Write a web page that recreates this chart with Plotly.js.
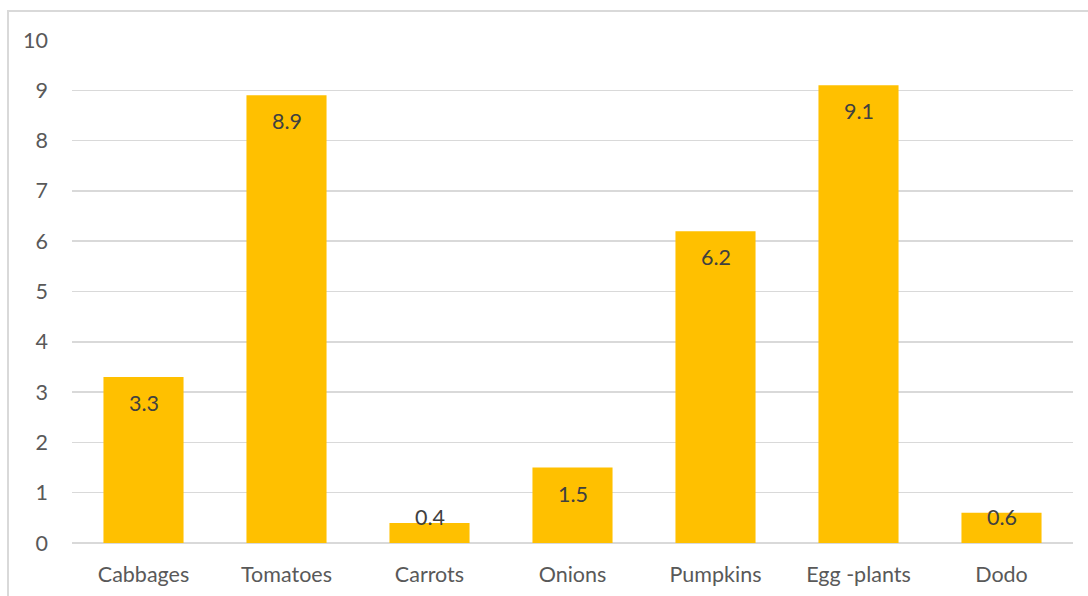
<!DOCTYPE html>
<html>
<head>
<meta charset="utf-8">
<script src="https://cdn.plot.ly/plotly-3.0.1.min.js"></script>
<style>
  html, body { margin: 0; padding: 0; background: #ffffff; }
  #chart { width: 1088px; height: 596px; }
</style>
</head>
<body>
<div id="chart"></div>
<script>
// Vegetable quantities
const categories = ["Cabbages", "Tomatoes", "Carrots", "Onions", "Pumpkins", "Egg -plants", "Dodo"];
const values = [3.3, 8.9, 0.4, 1.5, 6.2, 9.1, 0.6];
const yTicks = [0, 1, 2, 3, 4, 5, 6, 7, 8, 9, 10];

const W = 1088, H = 596;
const margin = { l: 72, r: 15, t: 40, b: 53, pad: 0 };
const yMax = 10;
const plotH = H - margin.t - margin.b;
const pxPerUnit = plotH / yMax;

const fontFamily = "Lato, 'Open Sans', sans-serif";
const fontSize = 21.5;
const labelFont = { family: fontFamily, size: fontSize, color: "#404040" };

// Value labels sit just inside the bar end; short bars keep the label above the axis line
const labelOffset = 26;
const annotations = values.map((v, i) => {
  const barPx = v * pxPerUnit;
  const shift = barPx >= labelOffset * 2 ? -labelOffset : (labelOffset - barPx);
  return {
    x: categories[i], y: v, xref: "x", yref: "y",
    text: String(v), showarrow: false,
    xanchor: "center", yanchor: "middle", yshift: shift,
    font: labelFont
  };
});

// Light frame around the whole chart area
const plotW = W - margin.l - margin.r;
const frame = {
  type: "rect", xref: "paper", yref: "paper",
  x0: (8 - margin.l) / plotW, x1: (W + 20 - margin.l) / plotW,
  y0: -(H + 20 - margin.t - plotH) / plotH, y1: (plotH + margin.t - 11) / plotH,
  line: { color: "#d9d9d9", width: 2 }, fillcolor: "rgba(0,0,0,0)", layer: "below"
};

const trace = {
  type: "bar",
  x: categories,
  y: values,
  marker: { color: "#FFC000", line: { width: 0 } },
  hoverinfo: "x+y"
};

const layout = {
  width: W, height: H,
  margin: margin,
  paper_bgcolor: "#ffffff",
  plot_bgcolor: "#ffffff",
  bargap: 0.44,
  showlegend: false,
  font: { family: fontFamily, size: fontSize, color: "#595959" },
  xaxis: {
    type: "category",
    showgrid: false, zeroline: false, showline: false,
    ticks: "", ticklabelstandoff: 16,
    tickfont: { family: fontFamily, size: fontSize, color: "#595959" },
    fixedrange: true
  },
  yaxis: {
    range: [0, yMax],
    tickvals: yTicks,
    ticktext: yTicks.map(String),
    showgrid: true, gridcolor: "#d9d9d9", gridwidth: 1.5,
    zeroline: true, zerolinecolor: "#d9d9d9", zerolinewidth: 1.5,
    showline: false, ticks: "", ticklabelstandoff: 23,
    tickfont: { family: fontFamily, size: fontSize, color: "#595959" },
    fixedrange: true
  },
  shapes: [frame],
  annotations: annotations
};

Plotly.newPlot("chart", [trace], layout, { displayModeBar: false, staticPlot: true });
</script>
</body>
</html>
